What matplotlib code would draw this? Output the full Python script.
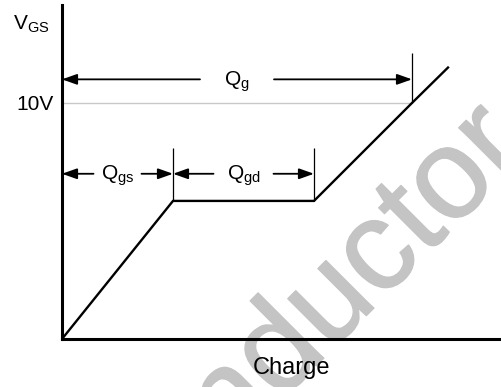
import matplotlib
matplotlib.use('Agg')
import matplotlib.pyplot as plt
import matplotlib.patheffects as pe

plt.rcParams['font.family'] = ['Liberation Sans', 'DejaVu Sans']
plt.rcParams['mathtext.fontset'] = 'custom'
plt.rcParams['mathtext.rm'] = 'Liberation Sans'

# ---- data ----
q_gs = 11.1          # gate-source charge
q_gd = 14.1          # gate-drain (Miller) charge
q_g = 35.0           # total gate charge at 10V
v_plateau = 5.85     # Miller plateau voltage
v_drive = 10.0
curve_q = [0.0, q_gs, q_gs + q_gd, q_g, 38.6]
curve_v = [0.0, v_plateau, v_plateau, v_drive, 11.5]
x_max = 44.0
y_max = 14.15
ytick_vals = [10]
ytick_labels = ['10V']
y_arrow_g = 11.0
y_arrow_sub = 7.0
tick_top_g = 12.1
tick_top_sub = 8.1
labels = ['Q_g', 'Q_gs', 'Q_gd']
watermark = 'Semiconductor'

fig = plt.figure(figsize=(5.02, 3.87), dpi=100)
W, H = 502.0, 387.0
ax = fig.add_axes([62 / W, 48 / H, 440 / W, 334 / H])
ax.set_xlim(0, x_max)
ax.set_ylim(0, y_max)
for s in ['top', 'right']:
    ax.spines[s].set_visible(False)
for s in ['left', 'bottom']:
    ax.spines[s].set_linewidth(2.2)
    ax.spines[s].set_capstyle('projecting')
ax.set_xticks([])
ax.set_yticks(ytick_vals)
ax.set_yticklabels(ytick_labels, fontsize=15)
ax.tick_params(axis='y', length=0, pad=6)

# watermark (behind everything, partially outside the canvas as in the original)
wm_color = '#c4c4c4'
ax.text(530 / W, 1 - 152 / H, watermark, transform=fig.transFigure, fontsize=92,
        color=wm_color, rotation=45, rotation_mode='anchor', ha='right',
        va='baseline', zorder=0.5, clip_on=False,
        path_effects=[pe.withStroke(linewidth=1.0, foreground=wm_color)])

# 10V reference line
ax.hlines(v_drive, 0, q_g, color='#c8c8c8', lw=1.0, zorder=1)

# main curve
ax.plot(curve_q, curve_v, color='black', lw=1.7, zorder=3, solid_joinstyle='miter')

# boundary ticks
ax.vlines([q_g], v_drive, tick_top_g, color='black', lw=0.9, zorder=3)
ax.vlines([q_gs, q_gs + q_gd], v_plateau, tick_top_sub, color='black', lw=0.9, zorder=3)

arrow_kw = dict(arrowstyle='-|>,head_length=0.9,head_width=0.32', lw=1.3,
                color='black', shrinkA=0, shrinkB=0, mutation_scale=10)


def dim(x0, x1, y, text, half_gap):
    c = (x0 + x1) / 2.0
    ax.annotate('', xy=(x0, y), xytext=(c - half_gap, y), arrowprops=arrow_kw, zorder=4)
    ax.annotate('', xy=(x1, y), xytext=(c + half_gap, y), arrowprops=arrow_kw, zorder=4)
    main, sub = text.split('_')
    ax.annotate(r'$\mathregular{%s_{%s}}$' % (main, sub), xy=(c, y), xytext=(0, -4.3),
                textcoords='offset points', ha='center', va='baseline', fontsize=15, zorder=4)


dim(0, q_g, y_arrow_g, labels[0], 3.7)
dim(0, q_gs, y_arrow_sub, labels[1], 2.4)
dim(q_gs, q_gs + q_gd, y_arrow_sub, labels[2], 3.0)

# axis labels
fig.text(13 / W, 1 - 30 / H, r'$\mathregular{V_{GS}}$', fontsize=15, ha='left', va='baseline')
ax.set_xlabel('Charge', fontsize=17)
ax.xaxis.set_label_coords((292 - 62) / 440.0, -0.055)
ax.xaxis.label.set_va('top')

fig.savefig('out.png', dpi=100)
